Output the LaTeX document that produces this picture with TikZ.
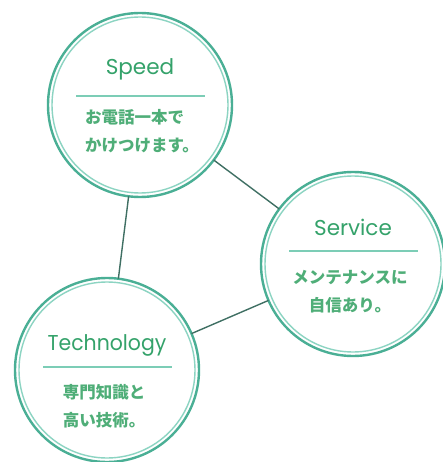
\documentclass[tikz,border=0pt]{standalone}
\usepackage{fontspec}
\setmainfont{Poppins}
\newfontfamily\jpfont{Noto Sans CJK JP}

\definecolor{ringout}{HTML}{4AAF95}
\definecolor{ringin}{HTML}{8CD4C2}
\definecolor{linkcol}{HTML}{3F6F63}
\definecolor{titlecol}{HTML}{34A26A}
\definecolor{rulecol}{HTML}{7CCDB6}
\definecolor{jpcol}{HTML}{4FAE78}

\tikzset{
    ring/.style={circle, draw=ringout, line width=2.4pt, fill=white,
        minimum size=184pt, inner sep=0pt, outer sep=0pt},
    innerring/.style={draw=ringin, line width=1.4pt},
    link/.style={draw=linkcol, line width=1.4pt},
    title/.style={text=titlecol, anchor=base, inner sep=0pt,
        font=\fontsize{21.5}{21.5}\selectfont},
    rule/.style={draw=rulecol, line width=1.8pt},
    jptext/.style={text=jpcol, inner sep=0pt, align=center,
        font=\jpfont\bfseries\fontsize{16.5}{28}\selectfont},
}

\begin{document}
\begin{tikzpicture}[x=1pt, y=-1pt]
        \useasboundingbox (0, 0) rectangle (443, 462);

        \node[ring] (speed) at (140, 105) {};
        \node[ring] (service) at (353, 264) {};
        \node[ring] (tech) at (107, 370) {};

        \draw[innerring] (speed.center) circle (88);
        \draw[innerring] (service.center) circle (88);
        \draw[innerring] (tech.center) circle (88);

        \draw[link] (speed) -- (service);
        \draw[link] (speed) -- (tech);
        \draw[link] (tech) -- (service);

        \node[title] (speedtitle) at (140, 75) {Speed};
        \node[title] (servicetitle) at (353, 235) {Service};
        \node[title, xscale=0.95] (techtitle) at (107, 350) {Technology};

        \draw[rule] (76, 96) -- (205, 96);
        \draw[rule] (289, 251) -- (418, 251);
        \draw[rule] (43, 367) -- (172, 367);

        \node[jptext, align=left] (speedtext) at (142, 131.5) {お電話一本で\\かけつけます。};
        \node[jptext] (servicetext) at (350, 292) {メンテナンスに\\自信あり。};
        \node[jptext] (techtext) at (104, 406) {専門知識と\\高い技術。};

    \end{tikzpicture}
\end{document}
